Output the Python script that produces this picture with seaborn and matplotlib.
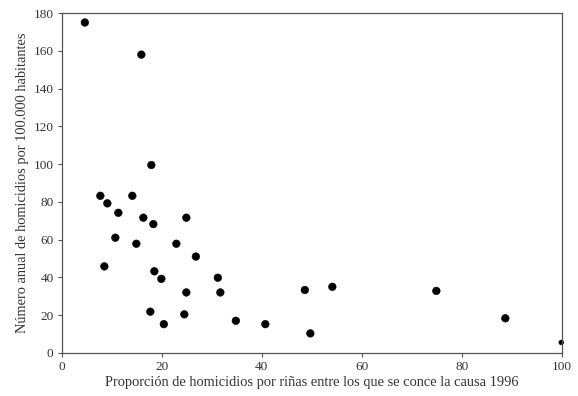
import matplotlib
matplotlib.use("Agg")
import matplotlib.pyplot as plt
import seaborn as sns
import pandas as pd

# Proporción de homicidios por riñas (%) y tasa anual de homicidios por 100.000 hab.
prop_rinas = [4.6, 15.9, 17.9, 7.7, 9.1, 14.1, 11.3, 16.3, 18.3, 24.9, 10.7, 14.9,
              22.9, 26.8, 8.5, 18.5, 19.9, 31.2, 24.9, 31.7, 17.7, 24.5, 20.4, 34.8,
              40.7, 48.6, 54.1, 49.7, 74.9, 88.7, 99.9]
tasa_homicidios = [175.0, 158.0, 99.5, 83.2, 79.2, 83.2, 74.2, 71.6, 68.2, 71.6, 61.0, 57.8,
                   57.8, 51.0, 45.8, 43.2, 39.2, 39.8, 32.0, 32.0, 21.8, 20.4, 15.2, 17.0,
                   15.2, 33.3, 35.0, 10.3, 32.8, 18.3, 5.5]
tamano = ["normal"] * 30 + ["borde"]

x_ticks = [0, 20, 40, 60, 80, 100]
y_ticks = [0, 20, 40, 60, 80, 100, 120, 140, 160, 180]

df = pd.DataFrame({"x": prop_rinas, "y": tasa_homicidios, "t": tamano})

sns.set_style("white")
plt.rcParams["font.family"] = ["Liberation Serif", "DejaVu Serif"]

fig = plt.figure(figsize=(5.78, 3.96), dpi=100)
ax = fig.add_axes([0.107, 0.109, 0.865, 0.858])

sns.scatterplot(data=df, x="x", y="y", size="t", sizes={"normal": 30, "borde": 12},
                color="black", edgecolor="black", linewidth=0.4, legend=False,
                ax=ax, clip_on=False)

ax.set_xlim(0, 100)
ax.set_ylim(0, 180)
ax.set_xticks(x_ticks)
ax.set_yticks(y_ticks)
ax.tick_params(axis="both", direction="out", length=3, width=0.8, color="#555555",
               labelsize=9.5, labelcolor="#333333", pad=3, bottom=True, left=True)
for s in ax.spines.values():
    s.set_color("#555555")
    s.set_linewidth(0.9)

ax.set_xlabel("Proporción de homicidios por riñas entre los que se conce la causa 1996",
              fontsize=10.4, color="#333333", labelpad=2)
ax.set_ylabel("Número anual de homicidios por 100.000 habitantes",
              fontsize=10.4, color="#333333", labelpad=3)

fig.savefig("out.png", dpi=100, facecolor="white")
